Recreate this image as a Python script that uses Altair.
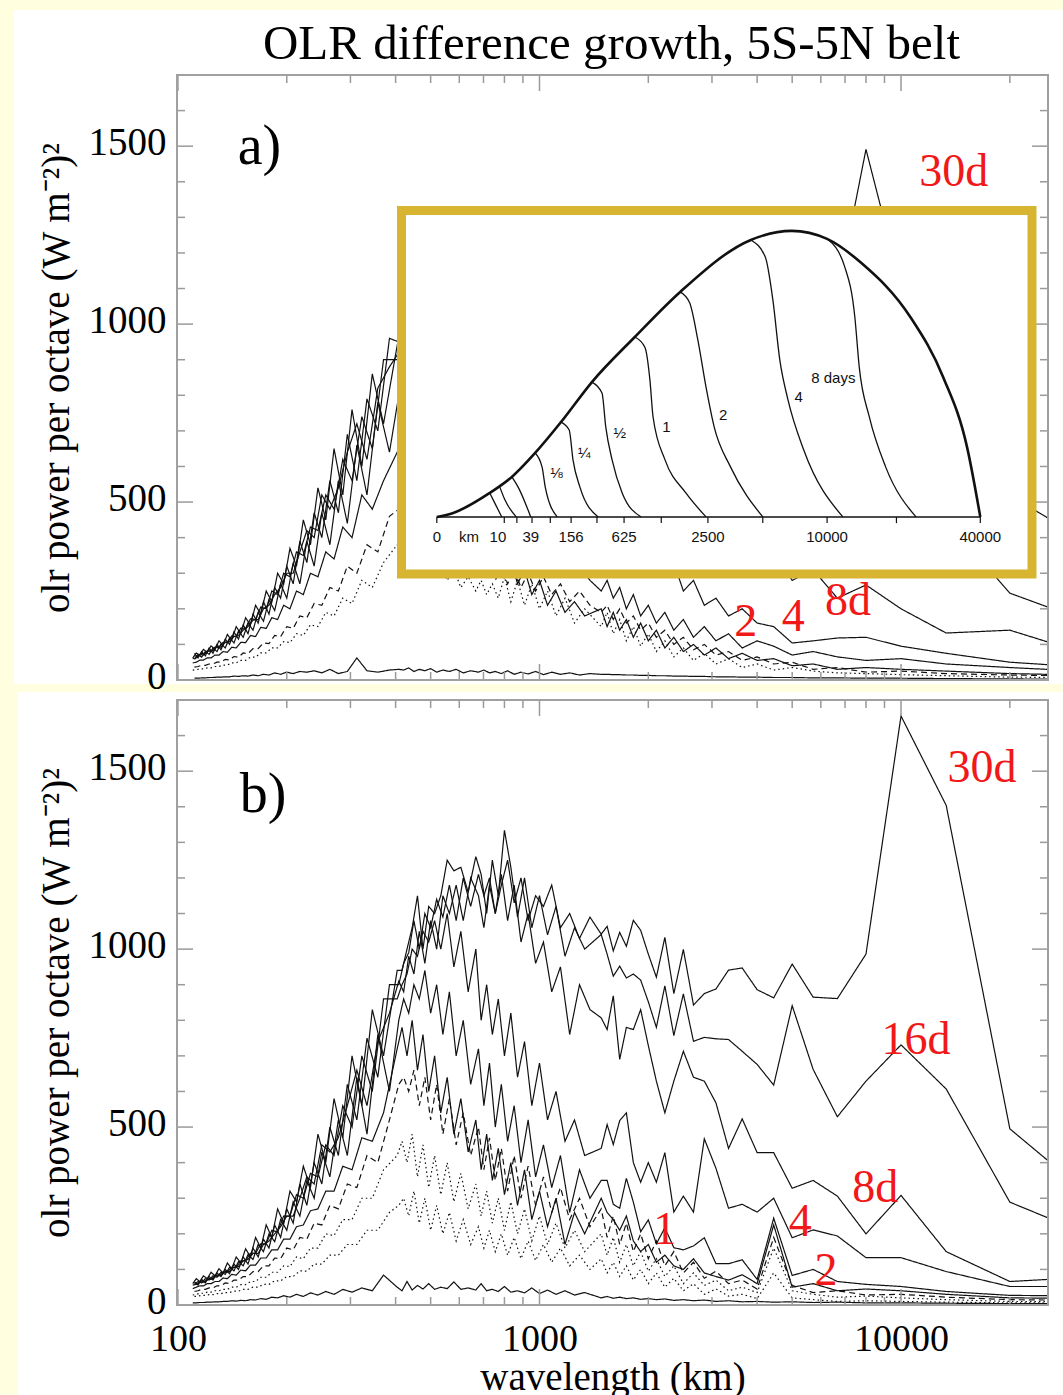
import altair as alt
import pandas as pd

# ---------------- data ----------------
# zonal wavenumber k -> wavelength = 40000 km / k ; two interleaved sampling grids
K_RIGHT = [1, 2, 3, 4, 5, 6, 7, 8, 9, 10, 11, 12, 13, 14, 15, 16, 17, 18, 19, 20,
           21, 22, 23, 24, 25, 26, 27]
K_MID_1 = [29, 31, 33, 35, 37, 39, 41, 43, 45, 47, 49, 51, 53, 55, 57, 59,
           62, 65, 68, 71, 74, 77, 80, 83, 86, 89, 92, 95, 98]
K_MID_2 = [30, 32, 34, 36, 38, 40, 42, 44, 46, 48, 50, 52, 54, 56, 58, 60,
           63, 66, 69, 72, 75, 78, 81, 84, 87, 90, 93, 96, 99]
K_LEFT_1 = [104, 112, 120, 128, 136, 144, 152, 160, 168, 176, 184, 192, 200, 208, 216,
            224, 232, 240, 248, 256, 264, 272, 280, 288, 296, 304, 312, 320, 328, 336,
            344, 352, 360]
K_LEFT_2 = [108, 116, 124, 132, 140, 148, 156, 164, 172, 180, 188, 196, 204, 212, 220,
            228, 236, 244, 252, 260, 268, 276, 284, 292, 300, 308, 316, 324, 332, 340,
            348, 356, 364]

# panel a) series: style, grid, values on K_RIGHT, K_MID, K_LEFT
PANEL_A = {
    "30d": ("solid", 1,
            [334, 520, 900, 1107, 1491, 1084, 950, 1000, 920, 980, 940, 1010, 960, 1020, 980, 1050, 990, 1040, 1000, 1080, 1020, 1060, 1000, 1050, 980, 1040, 1000],
            [960, 1010, 940, 990, 930, 980, 920, 960, 900, 950, 880, 940, 900, 960, 920, 980, 940, 1000, 950, 980, 940, 970, 930, 960, 950, 940, 960, 930, 950],
            [960, 700, 790, 560, 690, 470, 560, 400, 470, 330, 390, 270, 320, 230, 260, 185, 220, 160, 185, 130, 155, 115, 135, 100, 115, 85, 100, 75, 90, 68, 80, 62, 75]),
    "16d": ("solid", 2,
            [132, 244, 450, 600, 520, 620, 700, 650, 760, 720, 800, 760, 840, 800, 860, 820, 880, 840, 900, 860, 920, 880, 940, 900, 920, 940, 950],
            [900, 960, 920, 980, 940, 1000, 930, 990, 950, 1010, 960, 990, 940, 1000, 950, 980, 930, 990, 950, 1000, 960, 980, 940, 990, 960, 930, 950, 920, 940],
            [720, 860, 600, 760, 520, 650, 450, 540, 380, 450, 320, 370, 270, 300, 220, 250, 185, 210, 155, 175, 130, 150, 112, 128, 98, 110, 86, 96, 78, 86, 70, 76, 62]),
    "8d": ("solid", 1,
           [45, 140, 132, 200, 267, 230, 310, 280, 360, 330, 410, 380, 460, 430, 510, 480, 560, 520, 600, 570, 650, 610, 700, 660, 740, 700, 780],
           [760, 820, 780, 850, 800, 870, 820, 890, 840, 900, 860, 920, 870, 930, 890, 950, 900, 960, 910, 970, 920, 960, 930, 950, 920, 940, 930, 900, 920],
           [880, 820, 620, 720, 640, 540, 480, 520, 400, 420, 360, 300, 300, 260, 240, 210, 200, 170, 168, 150, 140, 125, 122, 108, 106, 92, 94, 82, 84, 74, 74, 66, 68]),
    "4d": ("solid", 2,
           [30, 50, 75, 95, 120, 118, 110, 104, 150, 160, 200, 180, 230, 210, 280, 250, 330, 300, 380, 340, 420, 380, 450, 420, 500, 460, 540],
           [500, 560, 520, 600, 560, 640, 600, 680, 640, 720, 680, 760, 720, 800, 760, 840, 800, 880, 840, 900, 860, 920, 880, 930, 900, 920, 900, 880, 900],
           [900, 650, 740, 560, 620, 480, 520, 420, 430, 350, 360, 290, 300, 240, 250, 200, 205, 170, 172, 145, 146, 122, 124, 105, 106, 90, 92, 80, 82, 70, 72, 62, 60]),
    "2d": ("solid", 1,
           [20, 35, 45, 60, 55, 65, 80, 70, 95, 110, 90, 130, 110, 150, 120, 170, 140, 190, 160, 210, 180, 240, 200, 260, 230, 280, 250],
           [280, 320, 290, 360, 320, 400, 350, 440, 390, 480, 430, 520, 470, 560, 510, 600, 560, 640, 600, 690, 640, 730, 680, 770, 720, 800, 760, 820, 800],
           [640, 780, 520, 660, 440, 560, 380, 470, 320, 390, 270, 330, 230, 270, 195, 225, 165, 190, 140, 160, 120, 138, 104, 118, 90, 102, 80, 90, 72, 80, 64, 72, 58]),
    "1d": ("solid", 2,
           [12, 18, 25, 30, 35, 30, 45, 40, 60, 55, 75, 60, 90, 70, 100, 80, 120, 90, 140, 110, 160, 120, 170, 140, 190, 150, 200],
           [180, 220, 190, 250, 210, 280, 240, 310, 270, 340, 300, 380, 330, 420, 360, 460, 400, 500, 440, 540, 480, 580, 520, 620, 560, 660, 600, 680, 640],
           [560, 480, 520, 400, 430, 340, 360, 290, 300, 240, 250, 200, 210, 170, 175, 145, 148, 122, 125, 105, 106, 90, 92, 78, 80, 70, 70, 62, 62, 56, 56, 50, 48]),
    "half": ("dashed", 1,
             [10, 14, 18, 25, 22, 35, 30, 50, 45, 65, 55, 80, 70, 100, 85, 120, 100, 140, 120, 160, 140, 180, 160, 200, 170, 210, 190],
             [210, 250, 220, 270, 240, 290, 250, 300, 260, 310, 270, 320, 280, 330, 300, 350, 320, 380, 340, 420, 370, 450, 400, 480, 420, 500, 450, 520, 480],
             [460, 360, 380, 300, 320, 250, 260, 210, 215, 175, 180, 145, 150, 122, 125, 102, 104, 88, 88, 74, 76, 64, 66, 56, 58, 50, 50, 45, 45, 41, 41, 38, 36]),
    "quarter": ("dotted", 2,
                [6, 8, 12, 15, 18, 20, 25, 35, 28, 45, 35, 60, 45, 75, 55, 90, 65, 110, 80, 130, 95, 150, 110, 170, 130, 190, 150],
                [200, 160, 230, 180, 250, 200, 270, 210, 280, 220, 290, 230, 270, 240, 280, 250, 290, 260, 310, 280, 330, 300, 350, 320, 370, 340, 400, 360, 380],
                [330, 260, 280, 215, 230, 180, 190, 150, 155, 125, 130, 105, 108, 90, 90, 76, 76, 64, 64, 55, 55, 48, 48, 42, 42, 38, 38, 34, 34, 31, 31, 29, 28]),
    "init": ("solid", 1,
             [2, 3, 4, 5, 5, 6, 6, 7, 7, 8, 8, 9, 9, 10, 10, 11, 11, 12, 12, 13, 13, 14, 14, 15, 15, 16, 16],
             [18, 14, 20, 16, 22, 15, 24, 17, 22, 16, 26, 18, 24, 20, 28, 22, 26, 20, 30, 24, 28, 22, 32, 26, 30, 24, 34, 28, 30],
             [28, 22, 26, 62, 24, 18, 30, 20, 26, 22, 24, 18, 22, 16, 20, 14, 16, 12, 14, 11, 12, 10, 11, 9, 9, 8, 8, 7, 7, 6, 6, 5, 5]),
}

# panel b) series
PANEL_B = {
    "30d": ("solid", 1,
            [240, 495, 1404, 1655, 986, 861, 865, 958, 863, 886, 947, 941, 888, 875, 843, 999, 875, 1033, 921, 986, 1053, 1081, 1008, 1047, 995, 1064, 1042],
            [1090, 1030, 1100, 1060, 1180, 1120, 1150, 1080, 1200, 1130, 1250, 1180, 1100, 1200, 1150, 1210, 1120, 1200, 1080, 1180, 1090, 1140, 1060, 1100, 1000, 1080, 990, 960, 900],
            [900, 640, 750, 520, 620, 420, 500, 340, 400, 280, 340, 230, 270, 190, 225, 160, 185, 135, 160, 115, 135, 100, 115, 88, 100, 80, 90, 70, 80, 62, 72, 56, 65]),
    "16d": ("solid", 2,
            [163, 289, 607, 731, 629, 529, 662, 841, 618, 676, 713, 746, 748, 752, 741, 874, 757, 897, 780, 852, 913, 930, 919, 952, 924, 986, 1041],
            [1000, 1060, 980, 1120, 1040, 1150, 1060, 1200, 1090, 1230, 1334, 1150, 1250, 1100, 1210, 1260, 1160, 1230, 1220, 1250, 1150, 1100, 1120, 1000, 1150, 1060, 1000, 940, 940],
            [700, 830, 560, 700, 470, 580, 400, 480, 330, 390, 290, 320, 230, 270, 190, 225, 160, 190, 135, 158, 118, 135, 102, 118, 90, 102, 82, 92, 74, 82, 66, 74, 60]),
    "8d": ("solid", 1,
           [83, 66, 150, 308, 200, 306, 350, 328, 428, 428, 523, 440, 568, 629, 640, 713, 629, 540, 629, 729, 830, 774, 780, 690, 869, 774, 807],
           [830, 900, 760, 950, 880, 1020, 960, 1100, 1020, 1180, 1080, 1210, 1100, 1180, 1060, 1150, 1200, 1080, 1180, 1100, 1150, 1000, 1080, 960, 1050, 930, 980, 880, 910],
           [820, 740, 560, 660, 560, 470, 430, 450, 340, 360, 300, 250, 250, 220, 200, 180, 170, 145, 145, 128, 124, 108, 106, 94, 94, 84, 84, 74, 74, 66, 68, 60, 62]),
    "4d": ("solid", 2,
           [52, 52, 94, 133, 133, 194, 211, 189, 300, 261, 283, 272, 384, 467, 261, 306, 261, 428, 345, 400, 345, 400, 540, 518, 451, 507, 440],
           [420, 520, 460, 600, 520, 680, 560, 740, 640, 820, 700, 860, 760, 900, 800, 1000, 880, 1050, 950, 1100, 1000, 1080, 1020, 1050, 980, 1000, 930, 900, 860],
           [860, 600, 700, 500, 560, 420, 450, 360, 370, 300, 310, 250, 250, 205, 210, 172, 172, 145, 146, 124, 124, 106, 106, 92, 92, 82, 82, 72, 72, 64, 64, 58, 56]),
    "2d": ("solid", 1,
           [25, 27, 38, 52, 58, 66, 100, 83, 244, 72, 127, 116, 116, 189, 166, 155, 161, 217, 172, 239, 206, 289, 356, 272, 283, 350, 350],
           [300, 380, 260, 420, 330, 450, 360, 520, 400, 560, 460, 620, 500, 680, 560, 720, 620, 800, 700, 880, 760, 900, 820, 940, 860, 900, 820, 860, 800],
           [600, 760, 480, 640, 420, 520, 360, 430, 300, 350, 250, 290, 210, 240, 178, 200, 150, 170, 128, 142, 110, 122, 96, 106, 86, 92, 78, 82, 70, 74, 62, 66, 58]),
    "1d": ("solid", 2,
           [18, 20, 30, 40, 45, 40, 60, 50, 225, 60, 85, 70, 80, 90, 130, 100, 110, 140, 120, 170, 150, 180, 250, 210, 240, 260, 300],
           [200, 260, 170, 300, 220, 320, 240, 380, 280, 400, 310, 440, 350, 480, 380, 520, 430, 580, 480, 640, 540, 700, 600, 760, 660, 800, 700, 780, 720],
           [540, 460, 470, 380, 390, 320, 320, 270, 265, 225, 220, 185, 185, 155, 155, 132, 132, 112, 112, 96, 98, 84, 86, 74, 76, 66, 66, 60, 60, 54, 54, 50, 46]),
    "half": ("dashed", 1,
             [12, 15, 22, 30, 28, 40, 35, 55, 190, 45, 70, 60, 95, 75, 120, 90, 150, 110, 180, 130, 200, 150, 230, 170, 250, 190, 270],
             [220, 300, 240, 330, 260, 360, 280, 390, 300, 420, 320, 440, 350, 470, 380, 500, 420, 540, 450, 580, 480, 620, 520, 640, 560, 660, 600, 640, 620],
             [520, 400, 420, 330, 340, 270, 280, 225, 230, 185, 190, 155, 160, 130, 132, 110, 110, 94, 94, 80, 80, 70, 70, 60, 62, 54, 54, 48, 48, 44, 44, 40, 38]),
    "quarter": ("dotted", 2,
                [8, 10, 15, 20, 25, 22, 30, 40, 160, 35, 50, 40, 70, 55, 90, 60, 110, 80, 130, 95, 150, 110, 170, 120, 190, 140, 200],
                [150, 210, 160, 230, 170, 250, 180, 270, 200, 290, 210, 300, 230, 320, 250, 340, 270, 370, 290, 400, 310, 420, 330, 450, 360, 480, 400, 460, 420],
                [380, 300, 300, 240, 240, 195, 200, 160, 160, 130, 135, 108, 110, 92, 92, 78, 78, 66, 66, 57, 57, 50, 50, 44, 44, 40, 40, 36, 36, 33, 33, 30, 28]),
    "eighth": ("dotted", 1,
               [5, 6, 8, 10, 12, 10, 15, 20, 90, 18, 30, 25, 45, 30, 60, 40, 75, 50, 90, 60, 100, 70, 110, 80, 120, 90, 130],
               [100, 140, 110, 160, 120, 170, 125, 180, 130, 190, 140, 200, 150, 210, 160, 220, 170, 240, 180, 260, 200, 280, 210, 300, 230, 320, 250, 300, 280],
               [260, 210, 210, 170, 170, 140, 140, 115, 115, 95, 96, 80, 80, 68, 68, 58, 58, 50, 50, 44, 44, 39, 39, 35, 35, 32, 32, 29, 29, 27, 27, 25, 24]),
    "init": ("solid", 2,
             [3, 4, 5, 6, 6, 8, 7, 9, 8, 10, 9, 12, 10, 14, 12, 15, 13, 17, 15, 18, 16, 20, 18, 22, 19, 24, 20],
             [35, 28, 40, 30, 42, 32, 48, 34, 40, 36, 52, 38, 44, 40, 60, 42, 48, 44, 65, 46, 50, 44, 60, 45, 55, 42, 66, 40, 50],
             [84, 40, 48, 36, 44, 30, 38, 28, 34, 24, 30, 22, 26, 20, 22, 16, 18, 14, 15, 12, 13, 11, 12, 10, 10, 9, 9, 8, 8, 7, 7, 6, 6]),
}

# red curve labels: text, wavelength (km), power
LABELS_A = [("30d", 14000, 1427), ("8d", 7130, 222), ("2", 3720, 163), ("4", 5030, 177)]
LABELS_B = [("30d", 16750, 1508), ("16d", 11000, 744), ("8d", 8480, 329),
            ("1", 2220, 211), ("4", 5260, 233), ("2", 6200, 96)]
TAG_A = [("a)", 168, 1497)]
TAG_B = [("b)", 172, 1433)]
TITLE = "OLR difference growth, 5S-5N belt"

Y_LABELS = [0, 500, 1000, 1500]
Y_MINOR = [100, 200, 300, 400, 600, 700, 800, 900, 1100, 1200, 1300, 1400, 1600, 1700]
X_LABELS = [100, 1000, 10000]
X_MINOR = [200, 300, 400, 500, 600, 700, 800, 900, 2000, 3000, 4000, 5000, 6000,
           7000, 8000, 9000, 20000]

# inset (mirrored Lorenz-type schematic), in inset units 0..100
INSET_FRAME = [{"u0": 0, "u1": 100, "v0": 0, "v1": 100}]
INSET_BASE = 15.7
INSET_TICK_END = 14.0
ENV_U = [5.6, 8.2, 14.0, 17.5, 21.2, 25.3, 30.2, 37.0, 44.2, 55.4, 61.9, 67.5, 72.9, 80.7, 85.9, 89.7, 91.8]
ENV_V = [15.7, 16.8, 22.3, 26.7, 33.3, 41.8, 52.8, 65.2, 77.6, 91.9, 94.4, 92.2, 85.6, 70.7, 54.2, 34.9, 15.7]
DAY_CURVES = {
    "8":    ([67.5, 70.3, 71.9, 72.6, 74.2, 76.8, 81.6], [92.2, 84.5, 70.7, 56.9, 43.2, 29.4, 15.7]),
    "4":    ([55.4, 57.7, 58.9, 60.0, 61.3, 63.8, 70.0], [91.9, 87.2, 75.4, 58.9, 47.9, 34.1, 15.7]),
    "2":    ([44.2, 45.7, 47.0, 48.3, 49.6, 52.2, 57.3], [77.6, 74.6, 64.4, 51.4, 40.4, 29.4, 15.7]),
    "1":    ([37.0, 38.6, 39.4, 39.9, 41.8, 45.1, 48.3], [65.2, 62.4, 53.4, 43.2, 31.4, 22.3, 15.7]),
    "1/2":  ([30.2, 31.8, 32.4, 33.4, 35.0, 38.0], [52.8, 49.8, 40.4, 31.4, 22.3, 15.7]),
    "1/4":  ([25.3, 26.6, 27.2, 28.3, 31.2], [41.8, 39.6, 31.4, 23.9, 15.7]),
    "1/8":  ([21.2, 22.3, 22.8, 24.7], [33.3, 29.4, 23.9, 15.7]),
    "1/16": ([17.5, 18.5, 20.5], [26.7, 23.9, 15.7]),
    "1/32": ([15.6, 16.4, 18.2], [23.9, 20.4, 15.7]),
    "1/64": ([14.0, 14.8, 15.9], [22.3, 19.5, 15.7]),
}
INSET_TICKS = [5.6, 16.3, 18.3, 20.7, 23.6, 26.9, 31.0, 35.3, 41.2, 48.6, 57.3, 67.5, 78.5, 91.8]
INSET_AXIS_LABELS = [("0", 5.6), ("km", 10.7), ("10", 15.3), ("39", 20.5), ("156", 26.9),
                     ("625", 35.3), ("2500", 48.6), ("10000", 67.5), ("40000", 91.8)]
INSET_AXIS_LABEL_V = 10.2
INSET_CURVE_LABELS = [("4", 63.0, 48.7), ("2", 51.0, 43.7), ("1", 42.0, 40.4),
                      ("½", 34.6, 38.8), ("¼", 29.0, 33.3), ("⅛", 24.6, 27.8)]
INSET_DAYS_LABEL = [("8 days", 72.0, 53.9)]

# ---------------- styling ----------------
W, H = 871, 605
SERIF = "Liberation Serif"
SANS = "Liberation Sans"
BG = "#FFFFE0"
TICK = "#9a9a9a"
RED = "#F01818"
GOLD = "#D8B531"
INK = "#111111"
Y_TITLE = "olr power per octave (W m⁻²)²"
STYLES = ["solid", "dashed", "dotted"]
DASHES = [[1, 0], [6, 4], [1.5, 3]]

XS = alt.Scale(type="log", domain=[99.4, 25500], nice=False)
YS = alt.Scale(domain=[0, 1700], nice=False, zero=False)
IX = alt.Scale(domain=[0, 100], range=[224.5, 855], nice=False, zero=False)
IY = alt.Scale(domain=[0, 100], range=[499, 135.5], nice=False, zero=False)

GRIDS = {1: K_RIGHT + K_MID_1 + K_LEFT_1, 2: K_RIGHT + K_MID_2 + K_LEFT_2}


def series_frame(panel):
    rows = []
    for name, (style, grid, r, m, l) in panel.items():
        assert len(r) == len(K_RIGHT) and len(m) == len(K_MID_1) and len(l) == len(K_LEFT_1), (name, len(r), len(m), len(l))
        for k, v in zip(GRIDS[grid], r + m + l):
            rows.append({"k": k, "val": v, "series": name, "style": style})
    return pd.DataFrame(rows)


ONE = alt.Data(values=[{"one": 1}])


def rect_value(x0, x1, y0, y1, **kw):
    return alt.Chart(ONE).mark_rect(**kw).encode(
        x=alt.value(x0), x2=alt.value(x1), y=alt.value(y0), y2=alt.value(y1))


def lines_layer(df, show_x):
    if show_x:
        xaxis = alt.Axis(values=X_LABELS, format="d", labelFont=SERIF, labelFontSize=38,
                         labelPadding=15, labelFlush=False, labelOverlap=False,
                         ticks=False, domain=False, grid=False, labelColor="black",
                         title="wavelength (km)", titleFont=SERIF, titleFontSize=39,
                         titleFontWeight="normal", titleColor="black", titlePadding=0,
                         zindex=2)
    else:
        xaxis = alt.Axis(labels=False, ticks=False, domain=False, grid=False, title="")
    yaxis = alt.Axis(values=Y_LABELS, format="d", labelFont=SERIF, labelFontSize=39,
                     labelPadding=11, labelOffset=-4, labelFlush=False, labelOverlap=False,
                     ticks=False, domain=False, grid=False, labelColor="black",
                     title=Y_TITLE, titleFont=SERIF, titleFontSize=39,
                     titleFontWeight="normal", titleColor="black", titlePadding=12,
                     zindex=2)
    return alt.Chart(df).transform_calculate(wl="40000 / datum.k").mark_line(
        clip=True, strokeWidth=1.2, color=INK).encode(
        x=alt.X("wl:Q", scale=XS, axis=xaxis),
        y=alt.Y("val:Q", scale=YS, axis=yaxis),
        detail="series:N",
        strokeDash=alt.StrokeDash("style:N", scale=alt.Scale(domain=STYLES, range=DASHES), legend=None),
    )


# the other main layers leave "axis" unspecified so they merge into the line layer's axes
def tick_layers():
    out = []
    for vals, L in ((Y_LABELS, 16), (Y_MINOR, 8)):
        d = alt.Chart(pd.DataFrame({"t": vals}))
        out.append(d.mark_rule(color=TICK, strokeWidth=1.5).encode(
            y=alt.Y("t:Q", scale=YS), x=alt.value(0), x2=alt.value(L)))
        out.append(d.mark_rule(color=TICK, strokeWidth=1.5).encode(
            y=alt.Y("t:Q", scale=YS), x=alt.value(W), x2=alt.value(W - L)))
    for vals, L in ((X_LABELS, 16), (X_MINOR, 8)):
        d = alt.Chart(pd.DataFrame({"t": vals}))
        out.append(d.mark_rule(color=TICK, strokeWidth=1.5).encode(
            x=alt.X("t:Q", scale=XS), y=alt.value(H), y2=alt.value(H - L)))
        out.append(d.mark_rule(color=TICK, strokeWidth=1.5).encode(
            x=alt.X("t:Q", scale=XS), y=alt.value(0), y2=alt.value(L)))
    return out


def text_layer(items, size, color):
    df = pd.DataFrame(items, columns=["txt", "wl", "val"])
    return alt.Chart(df).mark_text(font=SERIF, fontSize=size, color=color).encode(
        x=alt.X("wl:Q", scale=XS), y=alt.Y("val:Q", scale=YS), text="txt:N")


def frame_layer():
    return rect_value(0, W, 0, H, fillOpacity=0, stroke="#a0a0a0", strokeWidth=2)


def title_layer():
    return alt.Chart(ONE).mark_text(text=TITLE, font=SERIF, fontSize=49, color="black",
                                    baseline="middle").encode(
        x=alt.value(W / 2 - 1), y=alt.value(-31))


# ---------------- inset ----------------
def inset_layers():
    layers = []
    layers.append(alt.Chart(pd.DataFrame(INSET_FRAME)).mark_rect(
        fill="white", stroke=GOLD, strokeWidth=9).encode(
        x=alt.X("u0:Q", scale=IX, axis=None), x2="u1:Q",
        y=alt.Y("v0:Q", scale=IY, axis=None), y2="v1:Q"))
    base = pd.DataFrame({"u0": [ENV_U[0]], "u1": [ENV_U[-1]], "v": [INSET_BASE]})
    layers.append(alt.Chart(base).mark_rule(color=INK, strokeWidth=1.6).encode(
        x=alt.X("u0:Q", scale=IX, axis=None), x2="u1:Q",
        y=alt.Y("v:Q", scale=IY, axis=None)))
    ticks = pd.DataFrame({"u": INSET_TICKS, "v0": INSET_BASE, "v1": INSET_TICK_END})
    layers.append(alt.Chart(ticks).mark_rule(color=INK, strokeWidth=1.2).encode(
        x=alt.X("u:Q", scale=IX, axis=None),
        y=alt.Y("v0:Q", scale=IY, axis=None), y2="v1:Q"))
    env = pd.DataFrame({"u": ENV_U, "v": ENV_V})
    layers.append(alt.Chart(env).mark_line(color=INK, strokeWidth=2.6, interpolate="monotone").encode(
        x=alt.X("u:Q", scale=IX, axis=None), y=alt.Y("v:Q", scale=IY, axis=None)))
    rows = []
    for name, (us, vs) in DAY_CURVES.items():
        for u, v in zip(us, vs):
            rows.append({"curve": name, "u": u, "v": v})
    layers.append(alt.Chart(pd.DataFrame(rows)).mark_line(
        color=INK, strokeWidth=1.3, interpolate="monotone").encode(
        x=alt.X("u:Q", scale=IX, axis=None), y=alt.Y("v:Q", scale=IY, axis=None),
        detail="curve:N"))
    al = pd.DataFrame(INSET_AXIS_LABELS, columns=["txt", "u"])
    al["v"] = INSET_AXIS_LABEL_V
    layers.append(alt.Chart(al).mark_text(font=SANS, fontSize=15, color=INK).encode(
        x=alt.X("u:Q", scale=IX, axis=None), y=alt.Y("v:Q", scale=IY, axis=None), text="txt:N"))
    cl = pd.DataFrame(INSET_CURVE_LABELS, columns=["txt", "u", "v"])
    layers.append(alt.Chart(cl).mark_text(font=SANS, fontSize=15, color=INK).encode(
        x=alt.X("u:Q", scale=IX, axis=None), y=alt.Y("v:Q", scale=IY, axis=None), text="txt:N"))
    dl = pd.DataFrame(INSET_DAYS_LABEL, columns=["txt", "u", "v"])
    layers.append(alt.Chart(dl).mark_text(font=SANS, fontSize=15, color=INK, align="right").encode(
        x=alt.X("u:Q", scale=IX, axis=None), y=alt.Y("v:Q", scale=IY, axis=None), text="txt:N"))
    return alt.layer(*layers)


# ---------------- panels ----------------
df_a = series_frame(PANEL_A)
df_b = series_frame(PANEL_B)

main_a = alt.layer(
    rect_value(-163, W + 15, -65, H + 4, color="white"),
    lines_layer(df_a, False),
    *tick_layers(),
    frame_layer(),
    text_layer(LABELS_A, 46, RED),
    text_layer(TAG_A, 56, "black"),
    title_layer(),
)
panel_a = alt.layer(main_a, inset_layers()).resolve_scale(
    x="independent", y="independent").properties(width=W, height=H)

panel_b = alt.layer(
    rect_value(-159, W + 15, -8, H + 90, color="white"),
    lines_layer(df_b, True),
    *tick_layers(),
    frame_layer(),
    text_layer(LABELS_B, 46, RED),
    text_layer(TAG_B, 56, "black"),
).properties(width=W, height=H)

chart = alt.vconcat(panel_a, panel_b, spacing=20, bounds="flush").properties(
    padding={"left": 14, "top": 10, "right": 0, "bottom": 0}
).configure(background=BG).configure_view(strokeWidth=0)

chart.save("out.html", embed_options={"renderer": "svg", "actions": False})
